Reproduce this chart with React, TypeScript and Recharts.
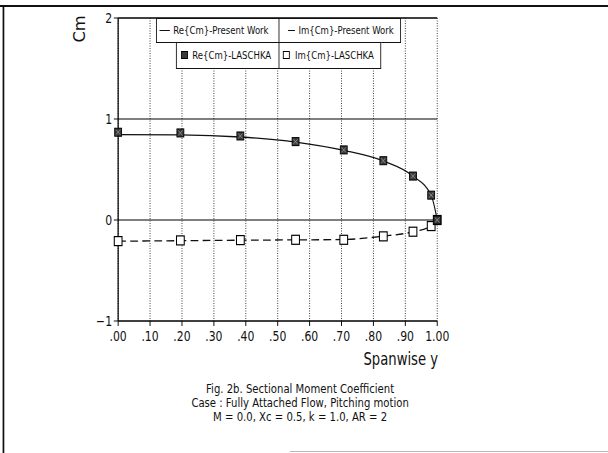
import React from "react";
import {
  ComposedChart,
  Line,
  XAxis,
  YAxis,
  CartesianGrid,
  ReferenceLine,
} from "recharts";

// ---- data ----
const spanStations = [0, 0.195, 0.383, 0.556, 0.707, 0.831, 0.924, 0.981, 1.0];
const rePresent = [0.845, 0.843, 0.822, 0.772, 0.69, 0.585, 0.435, 0.245, 0.0];
const imPresent = [-0.21, -0.205, -0.2, -0.197, -0.193, -0.16, -0.117, -0.06, 0.0];
const reLaschka = [0.869, 0.862, 0.832, 0.776, 0.694, 0.587, 0.435, 0.246, 0.0];
const imLaschka = [-0.209, -0.202, -0.199, -0.196, -0.196, -0.162, -0.116, -0.06, 0.0];

const xTicks = [0, 0.1, 0.2, 0.3, 0.4, 0.5, 0.6, 0.7, 0.8, 0.9, 1.0];
const xTickLabels = [".00", ".10", ".20", ".30", ".40", ".50", ".60", ".70", ".80", ".90", "1.00"];
const yTicks = [-1, 0, 1, 2];
const yTickLabels = ["\u22121", "0", "1", "2"];
const hLines = [0, 1, 2];

const legendLabels = [
  "Re{Cm}-Present Work",
  "Im{Cm}-Present Work",
  "Re{Cm}-LASCHKA",
  "Im{Cm}-LASCHKA",
];
const captionLines = [
  "Fig. 2b. Sectional Moment Coefficient",
  "Case : Fully Attached Flow, Pitching motion",
  "M = 0.0, Xc = 0.5, k = 1.0, AR = 2",
];

const data = spanStations.map((y, i) => ({
  y,
  rePresent: rePresent[i],
  imPresent: imPresent[i],
  reLaschka: reLaschka[i],
  imLaschka: imLaschka[i],
}));

const FONT = "'DejaVu Sans Condensed', 'Liberation Sans Narrow', 'DejaVu Sans', sans-serif";

// the scanned figure is horizontally squeezed: design width 705 shown at 608
const DESIGN_W = 705;
const H = 453;
const SX = 608 / DESIGN_W;

const FilledSquare = (props: any) => {
  const { cx, cy } = props;
  if (cx == null || cy == null) return null;
  const s = 4;
  return (
    <g>
      <rect x={cx - s} y={cy - s} width={2 * s} height={2 * s} fill="#3a3a3a" stroke="#000" strokeWidth={1} />
      <path
        d={`M${cx - s + 1.5},${cy - s + 1.5}L${cx + s - 1.5},${cy + s - 1.5}M${cx + s - 1.5},${cy - s + 1.5}L${cx - s + 1.5},${cy + s - 1.5}`}
        stroke="#999"
        strokeWidth={0.8}
      />
    </g>
  );
};

const OpenSquare = (props: any) => {
  const { cx, cy } = props;
  if (cx == null || cy == null) return null;
  const s = 4.5;
  return <rect x={cx - s} y={cy - s} width={2 * s} height={2 * s} fill="#fff" stroke="#000" strokeWidth={1.2} />;
};

const textStyle: React.CSSProperties = {
  position: "absolute",
  fontFamily: FONT,
  color: "#111",
  whiteSpace: "nowrap",
  lineHeight: 1,
};

export default function App() {
  return (
    <div style={{ position: "absolute", left: 0, top: 0, width: 608, height: H, background: "#fff", overflow: "hidden" }}>
      <div
        style={{
          position: "absolute",
          left: 0,
          top: 0,
          width: DESIGN_W,
          height: H,
          transform: `scaleX(${SX})`,
          transformOrigin: "0 0",
        }}
      >
        {/* outer frame */}
        <div style={{ position: "absolute", left: 0, top: 5, width: DESIGN_W, height: 2, background: "#111" }} />
        <div style={{ position: "absolute", left: 3, top: 6, width: 2, height: 447, background: "#111" }} />
        <div style={{ position: "absolute", left: 336, top: 451, width: 369, height: 1, background: "#bbb" }} />

        <div style={{ position: "absolute", left: 0, top: 0 }}>
          <ComposedChart
            width={DESIGN_W}
            height={H}
            data={data}
            margin={{ top: 18, right: 198, left: 0, bottom: 102 }}
          >
            <CartesianGrid horizontal={false} stroke="#333" strokeDasharray="1 1.5" />
            {hLines.map((v) => (
              <ReferenceLine
                key={v}
                y={v}
                stroke="#000"
                strokeWidth={v === 2 ? 1.4 : 1.1}
                ifOverflow="visible"
              />
            ))}
            <XAxis
              dataKey="y"
              type="number"
              domain={[0, 1]}
              ticks={xTicks}
              tickFormatter={(v: number) => xTickLabels[xTicks.findIndex((t) => Math.abs(t - v) < 1e-6)] ?? ""}
              axisLine={{ stroke: "#000", strokeWidth: 1.4 }}
              tickLine={{ stroke: "#000" }}
              tickSize={5}
              tickMargin={5}
              height={30}
              tick={{ fill: "#111", fontSize: 14, fontFamily: FONT }}
              interval={0}
            />
            <YAxis
              type="number"
              domain={[-1, 2]}
              ticks={yTicks}
              tickFormatter={(v: number) => yTickLabels[yTicks.indexOf(v)] ?? ""}
              axisLine={{ stroke: "#000", strokeWidth: 1.4 }}
              tickLine={{ stroke: "#000" }}
              tickSize={5}
              tickMargin={2}
              width={137}
              tick={{ fill: "#111", fontSize: 14, fontFamily: FONT }}
              interval={0}
            />
            <Line
              type="monotone"
              dataKey="rePresent"
              stroke="#111"
              strokeWidth={1.3}
              dot={false}
              activeDot={false}
              isAnimationActive={false}
            />
            <Line
              type="monotone"
              dataKey="imPresent"
              stroke="#111"
              strokeWidth={1.3}
              strokeDasharray="9 5"
              dot={false}
              activeDot={false}
              isAnimationActive={false}
            />
            <Line
              dataKey="imLaschka"
              stroke="none"
              dot={<OpenSquare />}
              activeDot={false}
              isAnimationActive={false}
            />
            <Line
              dataKey="reLaschka"
              stroke="none"
              dot={<FilledSquare />}
              activeDot={false}
              isAnimationActive={false}
            />
          </ComposedChart>
        </div>

        {/* y-axis title */}
        <div
          style={{
            ...textStyle,
            left: 93,
            top: 29,
            fontSize: 18,
            transform: "translate(-50%, -50%) rotate(-90deg)",
          }}
        >
          Cm
        </div>

        {/* x-axis title */}
        <div style={{ ...textStyle, right: DESIGN_W - 508, top: 351, fontSize: 17 }}>Spanwise y</div>

        {/* caption */}
        {captionLines.map((t, i) => (
          <div
            key={i}
            style={{
              ...textStyle,
              left: 348,
              top: 382 + i * 14,
              fontSize: 13,
              transform: "translateX(-50%)",
            }}
          >
            {t}
          </div>
        ))}

        {/* legend */}
        <div style={{ position: "absolute", left: 181, top: 18, width: 284, height: 25, border: "1px solid #111", boxSizing: "border-box", background: "#fff" }} />
        <div style={{ position: "absolute", left: 204, top: 42, width: 238, height: 27, border: "1px solid #111", boxSizing: "border-box", background: "#fff" }} />
        <div style={{ position: "absolute", left: 323, top: 18, width: 1, height: 51, background: "#111" }} />
        {/* row 1 */}
        <div style={{ position: "absolute", left: 185, top: 30, width: 12, height: 1.3, background: "#111" }} />
        <div style={{ ...textStyle, left: 201, top: 25, fontSize: 11 }}>{legendLabels[0]}</div>
        <div style={{ position: "absolute", left: 334, top: 30, width: 8, height: 1.3, background: "#111" }} />
        <div style={{ ...textStyle, left: 346, top: 25, fontSize: 11 }}>{legendLabels[1]}</div>
        {/* row 2 */}
        <svg style={{ position: "absolute", left: 209, top: 50 }} width={10} height={10}>
          <rect x={1.5} y={1.5} width={7} height={7} fill="#3a3a3a" stroke="#000" strokeWidth={1} />
        </svg>
        <div style={{ ...textStyle, left: 223, top: 50, fontSize: 11 }}>{legendLabels[2]}</div>
        <svg style={{ position: "absolute", left: 327, top: 50 }} width={10} height={10}>
          <rect x={1.5} y={1.5} width={7} height={7} fill="#fff" stroke="#000" strokeWidth={1} />
        </svg>
        <div style={{ ...textStyle, left: 342, top: 50, fontSize: 11 }}>{legendLabels[3]}</div>
      </div>
    </div>
  );
}
